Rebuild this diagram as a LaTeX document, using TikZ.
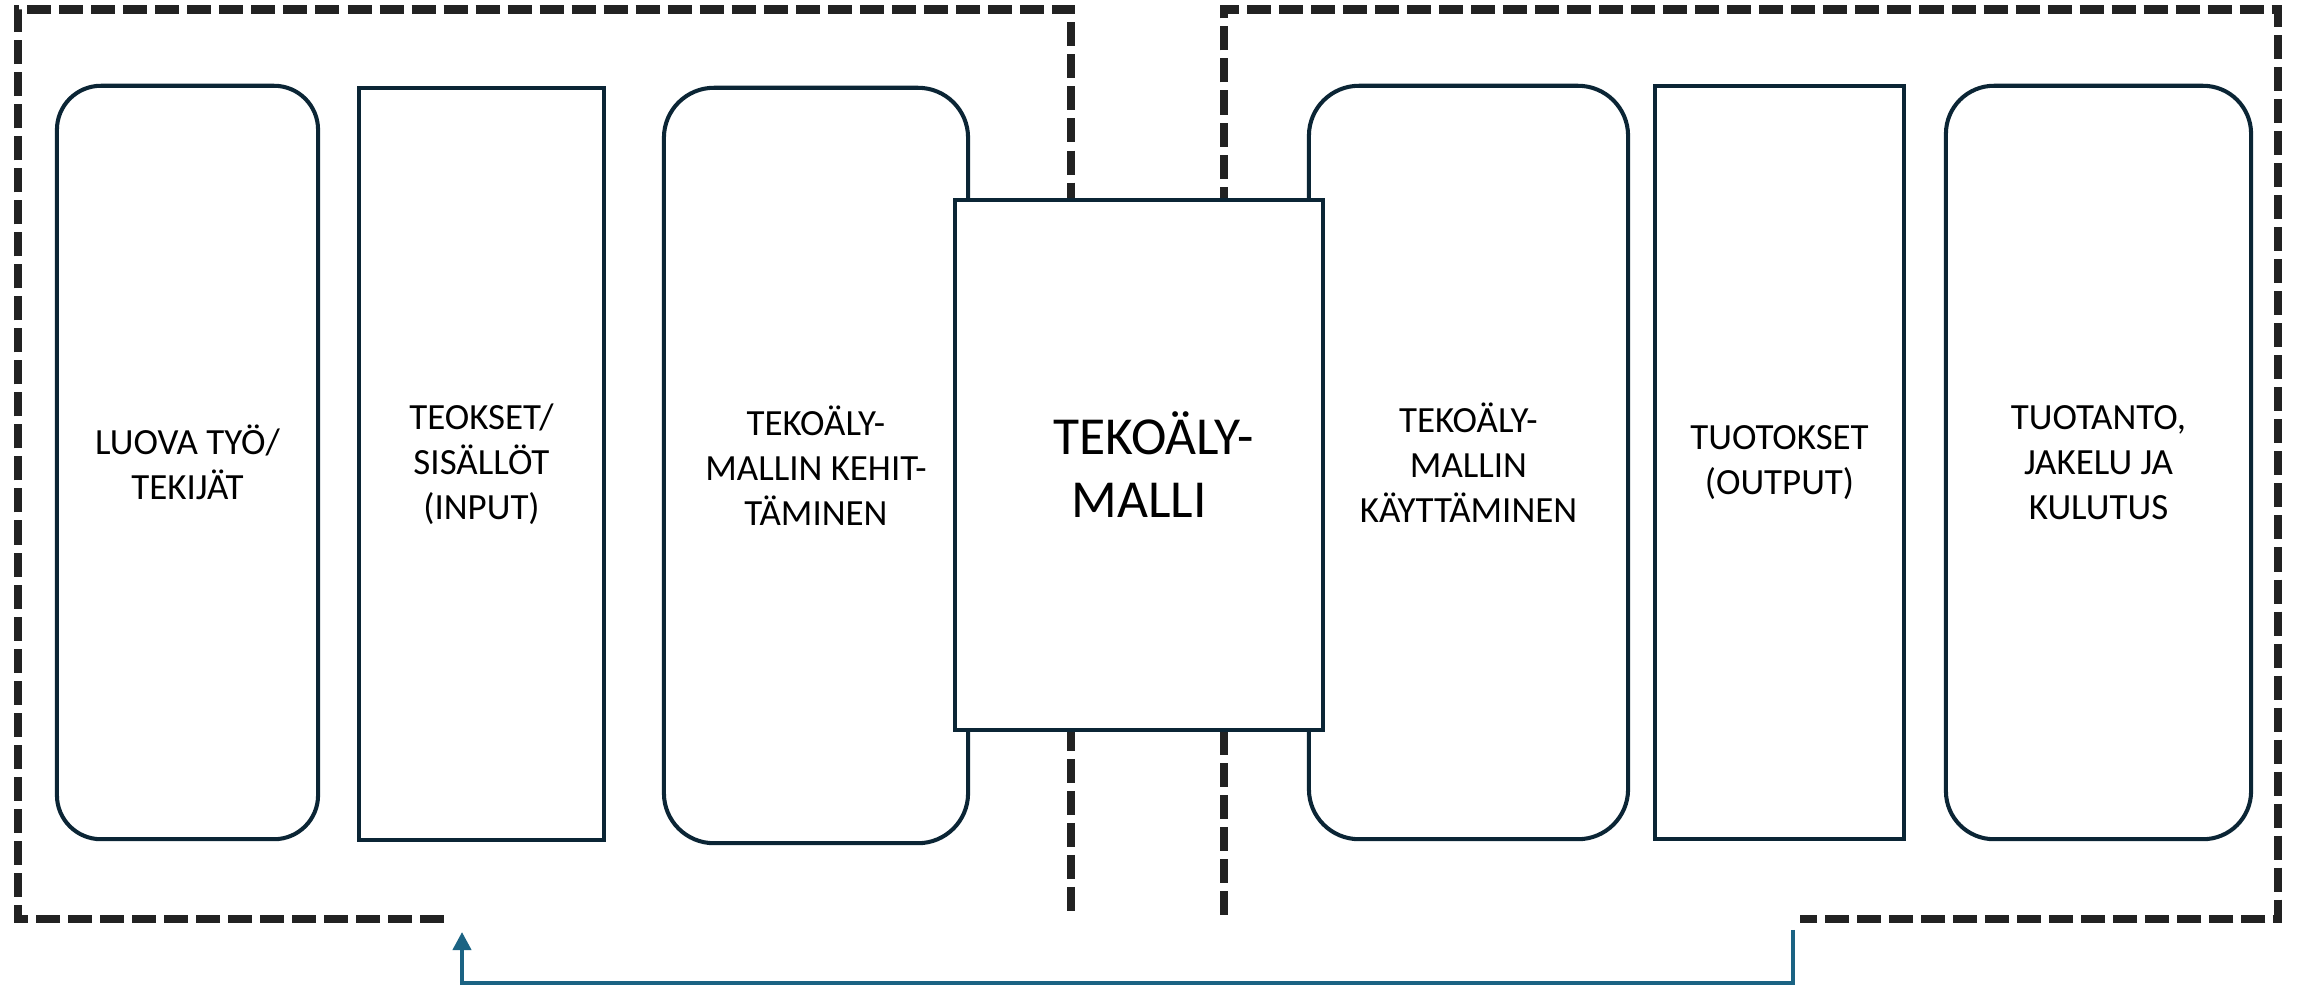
\documentclass[tikz,border=0pt]{standalone}
\usepackage{fontspec}
\setmainfont{Carlito}
\usetikzlibrary{arrows.meta}
\definecolor{edge}{HTML}{0B2535}
\definecolor{frame}{HTML}{222222}
\definecolor{loop}{HTML}{1B6383}
\begin{document}
\begin{tikzpicture}[x=0.01cm,y=-0.01cm,
  stage/.style={draw=edge, line width=1.15pt, fill=white, align=center,
    font=\fontsize{10.5}{12.8}\selectfont, text=black, inner sep=0pt},
  roundstage/.style={stage, rounded corners=0.48cm},
  zone/.style={draw=frame, line width=2.4pt, dash pattern=on 0.24cm off 0.08cm},
  feedback/.style={draw=loop, line width=1.15pt, -{Triangle[width=0.18cm,length=0.18cm]}}]

\useasboundingbox (0,0) rectangle (2300,986);

% dashed frames: development side and use side
\draw[zone] (444,919) -| (18,9.5) -| (1071,915);
\draw[zone] (1224,915) |- (2278,9.5) |- (1800,919);

% value-chain stages
\node[roundstage, rounded corners=0.44cm, minimum width=2.61cm, minimum height=7.53cm]
  (creators) at (187.5,462.5) {LUOVA TYÖ/\\TEKIJÄT};
\node[stage, minimum width=2.45cm, minimum height=7.52cm]
  (works) at (481.5,464) {TEOKSET/\\SISÄLLÖT\\(INPUT)};
\node[roundstage, rounded corners=0.5cm, minimum width=3.04cm, minimum height=7.55cm]
  (training) at (816,465.5) {TEKOÄLY-\\MALLIN KEHIT-\\TÄMINEN};
\node[roundstage, rounded corners=0.5cm, minimum width=3.19cm, minimum height=7.53cm]
  (usage) at (1468.5,462.5) {TEKOÄLY-\\MALLIN\\KÄYTTÄMINEN};
\node[stage, minimum width=2.49cm, minimum height=7.53cm]
  (outputs) at (1779.5,462.5) {TUOTOKSET\\(OUTPUT)};
\node[roundstage, minimum width=3.05cm, minimum height=7.53cm]
  (market) at (2098.5,462.5) {TUOTANTO,\\JAKELU JA\\KULUTUS};

% the model itself, on top of both frames
\node[stage, font=\fontsize{15.2}{17.9}\selectfont, minimum width=3.68cm, minimum height=5.30cm]
  (model) at (1139,465) {\hspace*{0.3cm}TEKOÄLY-\\MALLI};

% feedback loop from use back to the inputs
\coordinate (fbstart) at (1793,930);
\coordinate (fbend) at (462,932);
\draw[feedback] (fbstart) -- ++(0,53) -| (fbend);
\end{tikzpicture}
\end{document}
